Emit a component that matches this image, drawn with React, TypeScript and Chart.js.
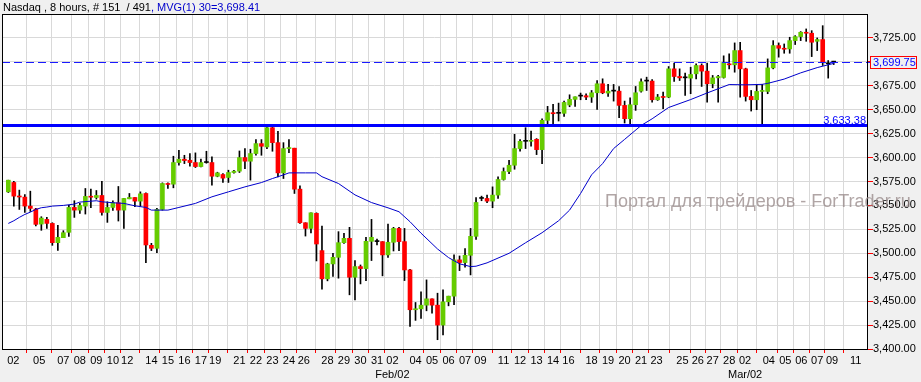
import React, { useEffect, useRef } from 'react';
import { Chart, registerables } from 'chart.js';
Chart.register(...registerables);

const OPEN = [3564.2,3574.0,3559.4,3558.7,3549.3,3546.2,3530.5,3535.4,3531.2,3511.1,3516.3,3521.9,3547.9,3545.1,3549.3,3559.4,3558.3,3560.4,3542.7,3547.9,3552.8,3545.1,3556.9,3558.3,3554.5,3562.5,3508.3,3505.2,3545.8,3572.9,3572.2,3594.8,3598.3,3597.2,3594.8,3590.6,3594.8,3594.8,3580.5,3582.3,3579.2,3584.4,3585.8,3600.0,3596.2,3604.2,3614.6,3611.1,3631.2,3615.6,3584.0,3609.4,3609.8,3567.0,3531.9,3526.0,3541.7,3502.8,3473.3,3488.9,3495.8,3511.1,3515.6,3475.0,3486.1,3484.0,3512.5,3512.2,3512.2,3498.3,3511.5,3526.0,3512.2,3482.6,3441.0,3442.0,3445.8,3452.4,3445.8,3425.0,3449.3,3455.2,3493.1,3490.3,3497.9,3517.7,3557.3,3557.3,3554.5,3560.8,3577.1,3585.4,3592.0,3609.4,3617.0,3617.0,3619.1,3608.3,3638.9,3646.9,3646.2,3646.2,3654.9,3660.8,3664.2,3664.6,3663.2,3667.7,3677.1,3667.4,3669.4,3669.4,3654.5,3640.6,3655.2,3669.4,3679.9,3679.9,3660.4,3663.5,3663.2,3692.7,3684.7,3683.3,3683.0,3687.5,3696.2,3690.3,3677.1,3683.3,3683.7,3697.9,3696.9,3711.8,3692.7,3663.9,3660.4,3669.1,3669.1,3693.7,3717.0,3714.2,3713.5,3722.2,3726.4,3730.9,3729.9,3721.5,3723.3,3697.9,3699.75];
const HIGH = [3576.4,3575.3,3566.0,3561.4,3564.9,3546.9,3538.2,3537.5,3531.9,3529.2,3523.6,3550.0,3554.9,3552.1,3567.7,3567.0,3565.6,3575.3,3553.8,3554.9,3569.8,3557.3,3562.5,3558.3,3564.2,3563.2,3510.4,3546.9,3573.6,3573.6,3601.4,3607.6,3602.4,3604.2,3604.9,3598.3,3606.6,3600.7,3584.7,3583.3,3586.8,3586.8,3606.9,3609.4,3608.7,3618.8,3618.8,3631.9,3631.9,3627.4,3615.6,3618.8,3609.8,3570.5,3531.9,3542.3,3542.3,3528.5,3489.6,3500.0,3522.6,3520.8,3527.1,3492.4,3487.8,3516.7,3535.4,3514.9,3512.2,3530.5,3527.1,3527.1,3526.0,3483.3,3448.6,3459.7,3472.2,3452.4,3458.3,3461.8,3455.2,3498.3,3497.2,3504.9,3526.0,3558.3,3559.7,3560.8,3569.4,3579.9,3589.2,3597.2,3624.3,3618.8,3631.2,3627.8,3619.8,3640.6,3653.5,3655.5,3656.9,3659.0,3665.6,3663.5,3667.4,3666.7,3670.1,3680.5,3682.3,3676.4,3676.4,3674.3,3659.0,3662.5,3674.3,3682.3,3684.0,3681.6,3666.0,3668.4,3695.1,3698.6,3692.7,3688.2,3694.4,3697.9,3697.9,3698.6,3685.8,3686.0,3706.3,3708.3,3719.8,3720.5,3693.4,3670.1,3676.4,3676.4,3703.1,3722.2,3719.8,3718.7,3725.7,3727.4,3731.6,3734.4,3732.6,3725.0,3737.8,3701.4,3700.6];
const LOW = [3563.5,3549.3,3545.8,3542.7,3543.7,3528.5,3524.0,3526.0,3508.3,3503.1,3516.3,3517.7,3537.5,3541.7,3541.0,3547.6,3556.6,3539.9,3532.3,3544.8,3533.7,3526.0,3556.9,3548.6,3549.3,3490.3,3502.8,3500.7,3545.1,3567.7,3568.4,3592.0,3593.7,3591.0,3589.6,3590.3,3594.1,3571.2,3579.9,3574.0,3574.0,3583.7,3584.4,3588.5,3576.4,3602.4,3602.4,3609.4,3606.6,3579.9,3578.1,3605.0,3562.5,3531.2,3518.0,3521.2,3492.0,3462.5,3471.2,3475.7,3474.0,3510.4,3456.6,3451.4,3468.0,3471.5,3492.4,3508.7,3476.4,3495.8,3502.4,3502.8,3471.5,3423.6,3429.9,3431.9,3439.9,3437.5,3409.7,3414.6,3445.1,3446.2,3481.9,3485.4,3477.4,3514.6,3554.9,3552.8,3547.6,3557.3,3576.4,3583.3,3587.8,3606.6,3609.4,3611.8,3603.1,3593.7,3634.4,3634.7,3638.2,3643.0,3653.1,3653.5,3660.4,3660.4,3657.6,3650.3,3666.7,3663.9,3659.0,3641.7,3636.1,3634.4,3649.3,3668.4,3670.1,3658.0,3659.7,3651.0,3662.5,3679.5,3680.5,3664.9,3666.7,3682.3,3674.3,3658.0,3672.9,3658.0,3683.0,3692.7,3689.2,3663.2,3659.0,3648.6,3650.0,3634.4,3666.7,3692.7,3704.9,3709.0,3709.0,3718.1,3722.2,3721.5,3705.5,3711.8,3696.2,3683.0,3697.2];
const CLOSE = [3576.4,3559.7,3558.8,3549.3,3546.9,3530.2,3536.8,3531.2,3511.1,3516.7,3521.5,3547.9,3545.1,3550.0,3559.4,3558.6,3560.4,3542.7,3547.9,3552.8,3545.1,3557.3,3558.3,3554.5,3562.1,3508.7,3505.2,3545.8,3572.9,3571.9,3594.8,3598.3,3596.9,3594.8,3590.6,3594.8,3594.8,3580.5,3584.0,3578.5,3584.4,3585.8,3600.0,3596.2,3604.2,3614.6,3611.8,3631.2,3615.6,3584.0,3609.4,3610.4,3567.0,3531.9,3526.0,3542.3,3509.7,3473.3,3488.9,3495.8,3511.1,3515.6,3475.0,3486.1,3484.0,3512.5,3516.7,3512.2,3498.3,3511.5,3526.0,3512.2,3482.6,3441.0,3442.0,3445.8,3452.4,3445.8,3425.0,3449.3,3455.2,3493.1,3490.3,3497.9,3517.7,3553.1,3557.3,3554.5,3560.8,3577.1,3585.4,3592.0,3609.4,3617.0,3617.0,3617.7,3608.3,3638.9,3646.9,3645.8,3646.2,3657.6,3660.8,3663.5,3664.2,3663.2,3667.7,3677.1,3667.7,3669.4,3669.4,3654.5,3640.6,3655.2,3667.7,3679.2,3679.9,3660.4,3663.2,3662.8,3692.7,3684.7,3683.3,3683.3,3686.8,3696.2,3690.3,3677.1,3683.3,3684.7,3699.3,3696.9,3711.8,3692.7,3663.9,3660.4,3669.1,3670.1,3693.7,3717.0,3714.2,3713.2,3722.2,3726.4,3730.9,3729.9,3720.5,3723.3,3699.7,3697.9,3699.75];

const MA_IDX = [0,1,2,3,4,5,6,7,8,10,12,13,16,17,19,21,23,25,26,29,31,34,37,40,43,46,48,50,51,54,56,57,60,63,66,69,71,73,75,78,80,82,84,85,87,91,94,97,100,102,104,106,108,110,112,115,117,120,124,127,131,134,137,138,141,144,147,150];
const MA_VAL = [3531.2,3534.0,3537.5,3540.6,3543.0,3545.8,3547.6,3548.3,3549.3,3550.0,3551.4,3553.5,3554.9,3553.8,3552.8,3552.1,3549.6,3547.9,3545.1,3545.1,3547.9,3552.1,3559.0,3564.2,3569.4,3573.9,3578.1,3581.9,3584.0,3584.0,3584.0,3580.0,3572.9,3561.0,3553.0,3547.5,3543.4,3533.0,3521.0,3504.5,3495.5,3489.0,3486.1,3486.5,3490.0,3500.0,3511.0,3521.5,3534.0,3545.1,3562.5,3582.0,3593.7,3609.4,3619.0,3633.5,3640.5,3652.3,3660.6,3667.5,3676.3,3676.0,3676.5,3677.5,3682.0,3688.5,3694.0,3698.41];

const TICK_POS = [0.9,5.6,10,13,16,19,21.6,26,29,32,35,37.6,42,45,48,51,53.7,58,61,64,67,69.8,74,77,80,83,85.8,90,93,96,99,101.8,106,109,112,115,117.8,122.5,125.3,128,131,133.9,138.2,141.2,144.1,147,149.7,154];
const TICK_LABELS = ['02','05','07','08','09','10','12','14','15','16','17','19','21','22','23','24','26','28','29','30','31','02','04','05','06','07','09','11','12','13','14','16','18','19','20','21','23','25','26','27','28','02','04','05','06','07','09','11'];
const MONTH_POS = [69.8, 133.9];
const MONTH_LABELS = ['Feb/02', 'Mar/02'];
const Y_TICKS = [3400,3425,3450,3475,3500,3525,3550,3575,3600,3625,3650,3675,3700,3725];
const SUPPORT_LEVEL = 3633.38;
const LAST_PRICE = 3699.75;
const TITLE_MAIN = 'Nasdaq , 8 hours, # 151  / 491';
const TITLE_MA = ', MVG(1) 30=3,698.41';
const WATERMARK = 'Портал для трейдеров - ForTrader.ru';

const FONT = '"Liberation Sans", Arial, sans-serif';
const fmt = (v: number) => v.toLocaleString('en-US', { minimumFractionDigits: 2, maximumFractionDigits: 2 });

export default function App() {
  const ref = useRef<HTMLCanvasElement>(null);
  useEffect(() => {
    const canvas = ref.current!;
    const n = OPEN.length;
    const wicks = OPEN.map((_, i) => ({ x: i, y: [LOW[i], HIGH[i]] }));
    const bodies = OPEN.map((o, i) => ({ x: i, y: [o, CLOSE[i]] }));
    const bodyColors = OPEN.map((o, i) => (CLOSE[i] > o ? '#66cc00' : CLOSE[i] < o ? '#ff0000' : '#000000'));
    const ma = MA_IDX.map((x, i) => ({ x, y: MA_VAL[i] }));

    const decor = {
      id: 'decor',
      beforeDraw(chart: any) {
        const { ctx, chartArea: a } = chart;
        ctx.save();
        ctx.fillStyle = '#f0f0f0';
        ctx.fillRect(0, 0, chart.width, chart.height);
        ctx.fillStyle = '#ffffff';
        ctx.fillRect(a.left, a.top, a.right - a.left, a.bottom - a.top);
        ctx.restore();
      },
      afterDatasetsDraw(chart: any) {
        const { ctx, chartArea: a, scales } = chart;
        const y = scales.y;
        ctx.save();
        // dashed last price line
        const yl = Math.round(y.getPixelForValue(LAST_PRICE)) + 0.5;
        ctx.strokeStyle = '#1a1aff';
        ctx.lineWidth = 1;
        ctx.setLineDash([8, 4]);
        ctx.beginPath();
        ctx.moveTo(a.left, yl);
        ctx.lineTo(a.right + 4, yl);
        ctx.stroke();
        ctx.setLineDash([]);
        // support line
        const ys = y.getPixelForValue(SUPPORT_LEVEL);
        ctx.strokeStyle = '#0000ff';
        ctx.lineWidth = 3;
        ctx.beginPath();
        ctx.moveTo(a.left, ys);
        ctx.lineTo(a.right, ys);
        ctx.stroke();
        ctx.fillStyle = '#0000ff';
        ctx.font = '11px ' + FONT;
        ctx.textAlign = 'right';
        ctx.textBaseline = 'alphabetic';
        ctx.fillText(fmt(SUPPORT_LEVEL), a.right - 1, ys - 2);
        // border
        ctx.strokeStyle = '#000000';
        ctx.lineWidth = 1;
        ctx.strokeRect(a.left + 0.5, a.top + 0.5, a.right - a.left, a.bottom - a.top);
        ctx.restore();
      },
      afterDraw(chart: any) {
        const { ctx, chartArea: a, scales } = chart;
        const x = scales.x, y = scales.y;
        ctx.save();
        // title
        ctx.font = '11px ' + FONT;
        ctx.textAlign = 'left';
        ctx.textBaseline = 'alphabetic';
        ctx.fillStyle = '#000000';
        ctx.fillText(TITLE_MAIN, 3, 10.5);
        const w = ctx.measureText(TITLE_MAIN).width;
        ctx.fillStyle = '#0000cc';
        ctx.fillText(TITLE_MA, 3 + w, 10.5);
        // month labels
        ctx.fillStyle = '#000000';
        ctx.textAlign = 'center';
        ctx.textBaseline = 'middle';
        MONTH_POS.forEach((p, i) => ctx.fillText(MONTH_LABELS[i], x.getPixelForValue(p), 375));
        // price box
        const yl = y.getPixelForValue(LAST_PRICE);
        ctx.fillStyle = '#f0f0f0';
        ctx.fillRect(871, yl - 5.5, 46, 11);
        ctx.strokeStyle = '#ff0000';
        ctx.lineWidth = 1;
        ctx.strokeRect(870.5, Math.round(yl - 5.5) - 0.5, 46, 12);
        ctx.fillStyle = '#0000ff';
        ctx.textAlign = 'left';
        ctx.fillText(fmt(LAST_PRICE), 873, yl + 0.5);
        // watermark
        ctx.font = '18px ' + FONT;
        ctx.fillStyle = 'rgba(150,135,135,0.75)';
        ctx.textAlign = 'left';
        ctx.textBaseline = 'alphabetic';
        ctx.fillText(WATERMARK, 605, 207);
        ctx.restore();
      },
    };

    const chart = new Chart(canvas, {
      type: 'bar',
      data: {
        datasets: [
          {
            type: 'line',
            data: ma,
            borderColor: '#0000cc',
            borderWidth: 1,
            pointRadius: 0,
            tension: 0,
            order: 1,
          } as any,
          {
            data: bodies as any,
            backgroundColor: bodyColors,
            barThickness: 4,
            minBarLength: 1,
            grouped: false,
            order: 2,
          },
          {
            data: wicks as any,
            backgroundColor: '#000000',
            barThickness: 1,
            grouped: false,
            order: 3,
          },
        ],
      },
      options: {
        responsive: false,
        animation: false,
        devicePixelRatio: 1,
        layout: { padding: { left: 2, top: 14, right: 0, bottom: 0 } },
        plugins: { legend: { display: false }, tooltip: { enabled: false }, title: { display: false } },
        scales: {
          x: {
            type: 'linear',
            min: -1.15,
            max: 156.05,
            offset: false,
            afterBuildTicks: (s: any) => { s.ticks = TICK_POS.map((v) => ({ value: v })); },
            afterFit: (s: any) => { s.height = 33; },
            grid: { color: '#d9d9d9', tickColor: '#ff0000', tickLength: 4, drawTicks: true },
            border: { color: '#000000' },
            ticks: {
              autoSkip: false,
              maxRotation: 0,
              padding: 1,
              color: '#000000',
              font: { size: 11, family: FONT },
              callback: (_v: any, i: number) => TICK_LABELS[i],
            },
          },
          y: {
            position: 'right',
            min: 3400,
            max: 3750,
            afterBuildTicks: (s: any) => { s.ticks = Y_TICKS.map((v) => ({ value: v })); },
            afterFit: (s: any) => { s.width = 54; },
            grid: { color: '#d9d9d9', tickColor: '#ff0000', tickLength: 6, drawTicks: true },
            border: { color: '#000000' },
            ticks: {
              padding: 0,
              color: '#000000',
              font: { size: 11, family: FONT },
              callback: (v: any) => fmt(Number(v)),
            },
          },
        },
      },
      plugins: [decor],
    });
    return () => chart.destroy();
  }, []);

  return (
    <div style={{ position: 'fixed', left: 0, top: 0, width: 921, height: 382, background: '#f0f0f0' }}>
      <canvas ref={ref} width={921} height={382} style={{ width: 921, height: 382, display: 'block' }} />
    </div>
  );
}
